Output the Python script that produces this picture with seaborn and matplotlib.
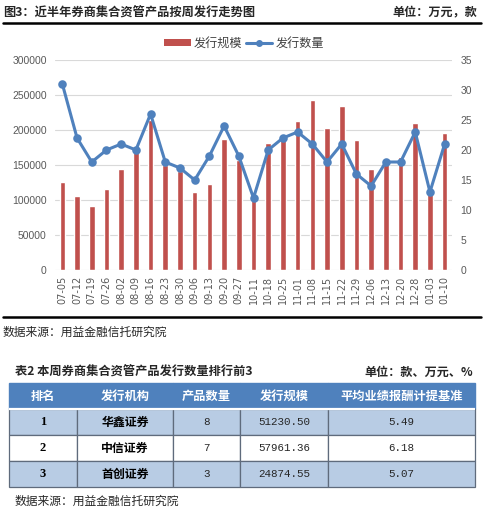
import numpy as np
import pandas as pd
import matplotlib
matplotlib.use('Agg')
import matplotlib.pyplot as plt
import seaborn as sns
from matplotlib.lines import Line2D
from matplotlib.patches import Patch

# ---------------- data ----------------
weeks = ['07-05', '07-12', '07-19', '07-26', '08-02', '08-09', '08-16', '08-23', '08-30',
         '09-06', '09-13', '09-20', '09-27', '10-11', '10-18', '10-25', '11-01', '11-08',
         '11-15', '11-22', '11-29', '12-06', '12-13', '12-20', '12-28', '01-03', '01-10']
issue_scale = [126000, 106000, 92000, 116000, 144000, 169000, 214000, 150000, 141000,
               112000, 123000, 187000, 157000, 105000, 182000, 190000, 213000, 243000,
               203000, 234000, 186000, 144000, 155000, 162000, 210000, 112000, 196000]
issue_count = [31, 22, 18, 20, 21, 20, 26, 18, 17, 15, 19, 24, 19, 12, 20, 22, 23, 21,
               18, 21, 16, 14, 18, 18, 23, 13, 21]
left_ticks = [0, 50000, 100000, 150000, 200000, 250000, 300000]
right_ticks = [0, 5, 10, 15, 20, 25, 30, 35]

tbl_headers = ['排名', '发行机构', '产品数量', '发行规模', '平均业绩报酬计提基准']
tbl_rank = ['1', '2', '3']
tbl_inst = ['华鑫证券', '中信证券', '首创证券']
tbl_num = ['8', '7', '3']
tbl_scale = ['51230.50', '57961.36', '24874.55']
tbl_bench = ['5.49', '6.18', '5.07']

# ---------------- style ----------------
sns.set_theme(style='white')
plt.rcParams['font.family'] = ['Noto Sans CJK SC', 'DejaVu Sans']

W, H = 484, 513
fig = plt.figure(figsize=(W / 100, H / 100), dpi=100)
fig.patch.set_facecolor('white')

def fx(x):
    return x / W

def fy(y):
    return 1 - y / H

BAR = '#c0504d'
LINE = '#4f81bd'
TICK = '#595959'

# ---------------- chart ----------------
ax = fig.add_axes([fx(55), fy(270), (452 - 55) / W, 210 / H])
df = pd.DataFrame({'week': weeks, 'scale': issue_scale, 'count': issue_count})
sns.barplot(data=df, x='week', y='scale', color=BAR, saturation=1, width=0.38, ax=ax)
ax2 = ax.twinx()
sns.pointplot(data=df, x='week', y='count', color=LINE, markers='o', markersize=4.5,
              linewidth=2.2, ax=ax2)

ax.set_ylim(0, 300000)
ax.set_yticks(left_ticks, [str(v) for v in left_ticks])
ax2.set_ylim(0, 35)
ax2.set_yticks(right_ticks, [str(v) for v in right_ticks])
ax.set_xlim(-0.5, len(weeks) - 0.5)
ax.set_xlabel('')
ax.set_ylabel('')
ax2.set_ylabel('')
ax2.set_xlabel('')

ax.yaxis.grid(True, color='#d9d9d9', lw=0.8)
ax.xaxis.grid(False)
ax.set_axisbelow(True)
for a in (ax, ax2):
    for s in ('top', 'left', 'right'):
        a.spines[s].set_visible(False)
    a.spines['bottom'].set_visible(False)
ax.set_zorder(1)
ax2.set_zorder(2)
ax.patch.set_visible(False)

ax.tick_params(axis='x', rotation=90, labelsize=7, colors=TICK, length=0, pad=4)
for lab in ax.get_xticklabels():
    lab.set_family(['DejaVu Sans'])
ax.tick_params(axis='y', labelsize=7.5, colors=TICK, length=0, pad=6)
ax2.tick_params(axis='y', labelsize=7.5, colors=TICK, length=0, pad=6)
for lab in ax.get_yticklabels() + ax2.get_yticklabels():
    lab.set_family(['Liberation Sans'])

# legend
handles = [Patch(facecolor=BAR, edgecolor='none'),
           Line2D([], [], color=LINE, marker='o', lw=2.2, ms=4)]
fig.legend(handles, ['发行规模', '发行数量'], loc='center',
           bbox_to_anchor=(fx(244), fy(43)), ncol=2, frameon=False, fontsize=8.7,
           handlelength=2.2, handleheight=0.5, columnspacing=0.3, handletextpad=0.25,
           labelcolor='#404040')

# header / footer of chart
fig.text(fx(3), fy(13), '图3：近半年券商集合资管产品按周发行走势图', fontsize=8.8,
         fontweight='bold', ha='left', va='center')
fig.text(fx(477), fy(13), '单位：万元，款', fontsize=8.7, fontweight='bold',
         ha='right', va='center')
fig.add_artist(Line2D([fx(3), fx(481)], [fy(23), fy(23)], color='black', lw=1.8,
                      transform=fig.transFigure))
fig.add_artist(Line2D([fx(3), fx(481)], [fy(317), fy(317)], color='black', lw=1.8,
                      transform=fig.transFigure))
fig.text(fx(3), fy(332), '数据来源：用益金融信托研究院', fontsize=8.5,
         ha='left', va='center')

# ---------------- table ----------------
fig.text(fx(15), fy(372), '表2 本周券商集合资管产品发行数量排行前3', fontsize=8.8,
         fontweight='bold', ha='left', va='center')
fig.text(fx(473), fy(372), '单位：款、万元、%', fontsize=8.7, fontweight='bold',
         ha='right', va='center')

tax = fig.add_axes([fx(9), fy(487), (475 - 9) / W, (487 - 383) / H])
tax.axis('off')
rows = [list(r) for r in zip(tbl_rank, tbl_inst, tbl_num, tbl_scale, tbl_bench)]
widths = np.array([68, 96, 67, 88, 147], dtype=float)
tbl = tax.table(cellText=rows, colLabels=tbl_headers, colWidths=list(widths / widths.sum()),
                bbox=[0, 0, 1, 1], cellLoc='center')
tbl.auto_set_font_size(False)
for (r, c), cell in tbl.get_celld().items():
    txt = cell.get_text()
    if r == 0:
        cell.set_facecolor('#4f81bd')
        cell.set_edgecolor('#4f81bd')
        txt.set_color('white')
        txt.set_fontweight('bold')
        txt.set_fontsize(8.8)
    else:
        cell.set_facecolor('#b8cce4' if r % 2 == 1 else 'white')
        cell.set_edgecolor('#5f6b7c')
        cell.set_linewidth(0.9)
        if c == 0:
            txt.set_family(['Liberation Serif'])
            txt.set_fontweight('bold')
            txt.set_fontsize(9)
            txt.set_color('black')
        elif c == 1:
            txt.set_fontweight('bold')
            txt.set_fontsize(8.6)
            txt.set_color('black')
        else:
            txt.set_family(['Liberation Mono'])
            txt.set_fontsize(7.8)
            txt.set_color('#262626')
tax.axhline(0.75, color='white', lw=1.6)

fig.text(fx(15), fy(501), '数据来源：用益金融信托研究院', fontsize=8.5,
         ha='left', va='center')

fig.savefig('out.png', dpi=100, facecolor='white')
